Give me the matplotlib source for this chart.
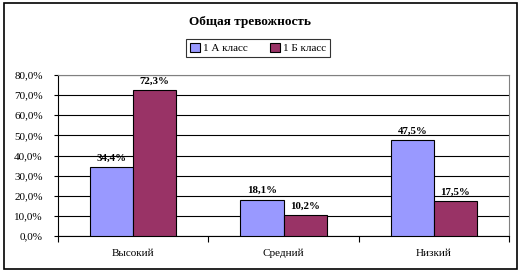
import numpy as np
import matplotlib as mpl; mpl.use("Agg")
import matplotlib.pyplot as plt
from matplotlib.patches import Rectangle

categories = ["Высокий", "Средний", "Низкий"]
class_a = [34.4, 18.1, 47.5]
class_b = [72.3, 10.2, 17.5]
series_names = ["1 А класс", "1 Б класс"]
yticks = [0, 10, 20, 30, 40, 50, 60, 70, 80]

C_A, C_B = "#9999FF", "#993366"
plt.rcParams.update({"font.family": "Liberation Serif", "font.size": 8})

fig = plt.figure(figsize=(5.22, 2.74), dpi=100)
fig.patches.append(Rectangle((4/522, 1-269/274), 513/522, 266/274, transform=fig.transFigure,
                             fill=False, ec="black", lw=1.2))
ax = fig.add_axes([58/522, 1-236/274, 451/522, 161/274])

x = np.arange(len(categories))
w = 0.287
ax.bar(x - w/2, class_a, w, color=C_A, ec="black", lw=0.8, label=series_names[0], zorder=3)
ax.bar(x + w/2, class_b, w, color=C_B, ec="black", lw=0.8, label=series_names[1], zorder=3)
for xi, v in zip(x, class_a):
    ax.text(xi - w/2, v + 2.2, f"{v:.1f}%".replace(".", ","), ha="center", va="bottom",
            fontweight="bold", fontsize=7.8)
for xi, v in zip(x, class_b):
    ax.text(xi + w/2, v + 2.2, f"{v:.1f}%".replace(".", ","), ha="center", va="bottom",
            fontweight="bold", fontsize=7.8)

ax.set_xlim(-0.5, 2.5); ax.set_ylim(0, 80)
ax.set_yticks(yticks)
ax.set_yticklabels([f"{t:.1f}%".replace(".", ",") for t in yticks])
ax.yaxis.grid(True, color="black", lw=0.8, zorder=0)
ax.set_xticks(x); ax.set_xticklabels(categories)
ax.set_xticks([-0.5, 0.5, 1.5, 2.5], minor=True)
ax.tick_params(axis="x", which="major", length=0, pad=9)
ax.tick_params(axis="x", which="minor", length=4, width=0.8, direction="out")
ax.tick_params(axis="y", length=3, width=0.8, pad=8)
for s in ["top", "right"]:
    ax.spines[s].set_color("#808080")
for s in ["left", "bottom"]:
    ax.spines[s].set_color("black")

fig.text(250/522, 1-22/274, "Общая тревожность", ha="center", va="center",
         fontweight="bold", fontsize=9.5)
fig.legend(loc="center", bbox_to_anchor=(258/522, 1-48/274), ncol=2, frameon=True,
           fancybox=False, edgecolor="black", fontsize=8, handlelength=0.9, handleheight=0.9,
           handletextpad=0.3, columnspacing=2.0, borderpad=0.3).get_frame().set_linewidth(0.8)
fig.savefig("out.png", dpi=100)
